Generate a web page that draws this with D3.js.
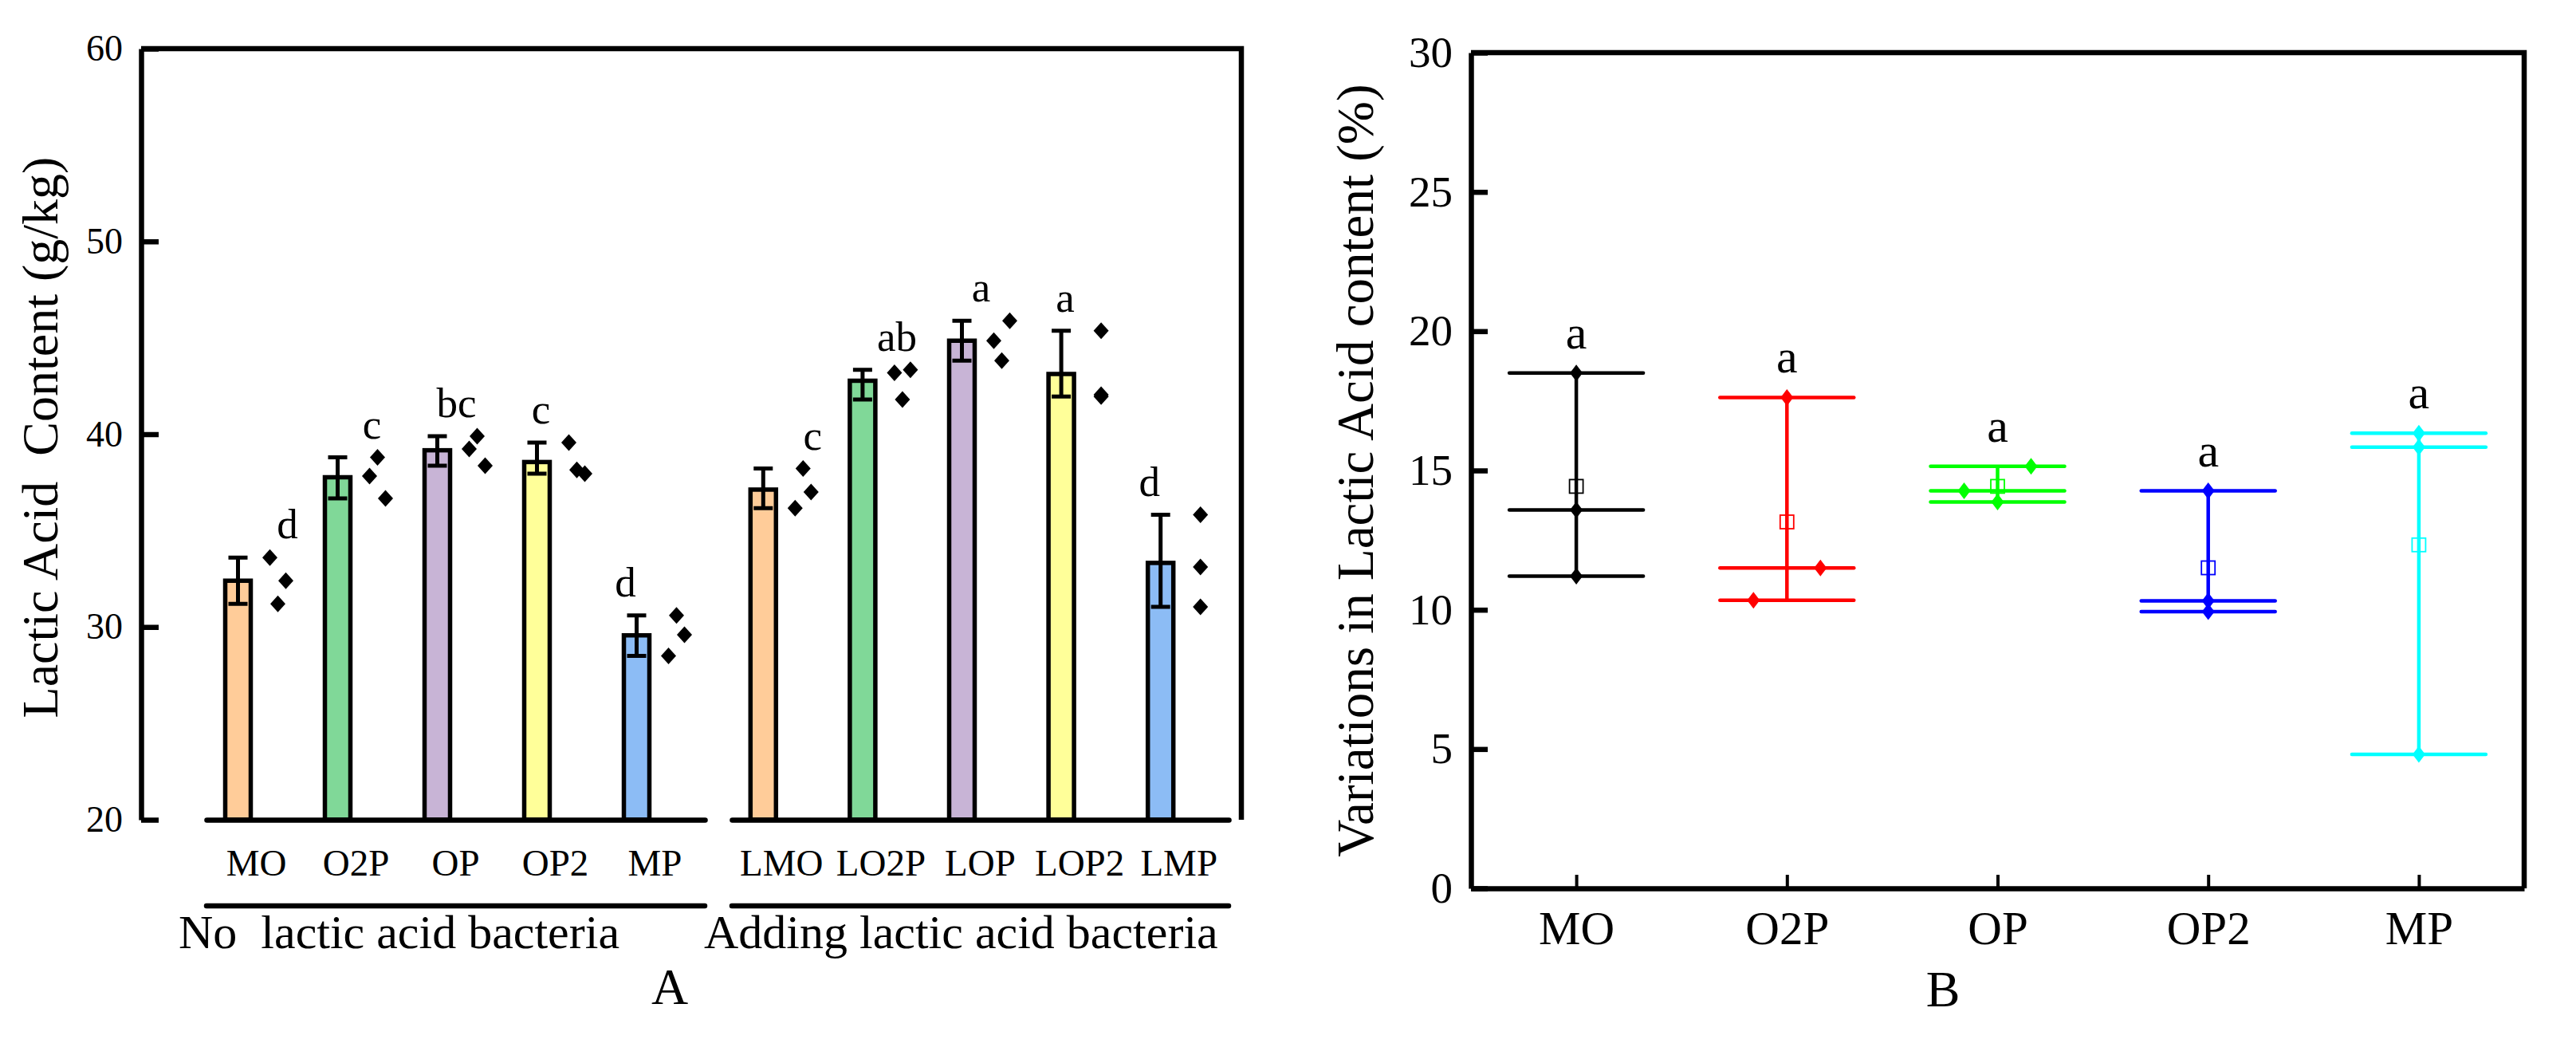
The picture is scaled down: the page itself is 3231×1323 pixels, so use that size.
<!DOCTYPE html>
<html>
  <head>
    <meta charset="utf-8">
    <title>Lactic acid content</title>
    <style>
      body { margin: 0; background: #fff; }
      svg { display: block; }
      text { font-family: "Liberation Serif", "Times New Roman", serif; fill: #000; white-space: pre; }
      .axis path, .axis line { stroke: #000; }
      .bar { stroke: #000; stroke-width: 5.5px; }
      .err { stroke: #000; stroke-width: 5px; fill: none; }
    </style>
  </head>
  <body>
    <div id="chart"></div>
    <script src="https://d3js.org/d3.v7.min.js"></script>
    <script>
      const serif = "Liberation Serif, Times New Roman, serif";

      // Panel A: two groups of five treatments, three replicates each (g/kg)
      const groupNames = ["No  lactic acid bacteria", "Adding lactic acid bacteria"];
      const catsNoLab = ["MO", "O2P", "OP", "OP2", "MP"];
      const catsLab = ["LMO", "LO2P", "LOP", "LOP2", "LMP"];
      const barColors = ["#ffcc99", "#80d898", "#c8b4d6", "#ffff99", "#8cbcf5"];
      const repsNoLab = [
        [33.6, 32.4, 31.2],
        [38.8, 37.83, 36.67],
        [39.9, 39.23, 38.37],
        [39.57, 38.15, 37.95],
        [30.6, 29.6, 28.5]
      ];
      const repsLab = [
        [38.22, 37.0, 36.16],
        [43.18, 43.34, 41.8],
        [45.88, 44.85, 43.82],
        [45.37, 42.05, 41.95],
        [35.82, 33.11, 31.04]
      ];
      // which side of the point column each replicate sits (-1 left, 0 middle, 1 right)
      const slotNoLab = [[-1, 1, 0], [0, -1, 1], [0, -1, 1], [-1, 0, 1], [0, 1, -1]];
      const slotLab = [[0, 1, -1], [-1, 1, 0], [1, -1, 0], [0, 0, 0], [0, 0, 0]];
      const lettersNoLab = ["d", "c", "bc", "c", "d"];
      const lettersLab = ["c", "ab", "a", "a", "d"];
      const ticksA = [20, 30, 40, 50, 60];

      // Panel B: variation in lactic acid content (%)
      const catsB = ["MO", "O2P", "OP", "OP2", "MP"];
      const colorsB = ["#000000", "#ff0000", "#00ff00", "#0000ff", "#00ffff"];
      const repsB = [
        [18.5, 13.58, 11.21],
        [17.62, 11.5, 10.34],
        [15.15, 14.27, 13.87],
        [14.27, 10.32, 9.93],
        [16.34, 15.84, 4.81]
      ];
      const slotB = [[0, 0, 0], [0, 1, -1], [1, -1, 0], [0, 0, 0], [0, 0, 0]];
      const lettersB = ["a", "a", "a", "a", "a"];
      const ticksB = [0, 5, 10, 15, 20, 25, 30];

      const width = 3231, height = 1323;
      const svg = d3.select("#chart").append("svg")
          .attr("width", width)
          .attr("height", height)
          .attr("font-family", serif);

      const diamond = (hw, hh) => `M0,${-hh}L${hw},0L0,${hh}L${-hw},0Z`;

      // ---------- Panel A ----------
      const A = { left: 177, right: 1557, top: 61, bottom: 1028 };
      const yA = d3.scaleLinear().domain([20, 60]).range([A.bottom, A.top]);
      const groupRanges = [[259, 884], [918, 1541]];

      const gA = svg.append("g");

      // frame top and right
      gA.append("path")
          .attr("d", `M${A.left},${A.top}H${A.right}V${A.bottom}`)
          .attr("fill", "none").attr("stroke", "#000").attr("stroke-width", 6.5);

      const yAxisA = gA.append("g")
          .attr("class", "axis")
          .attr("transform", `translate(${A.left},0)`)
          .call(d3.axisLeft(yA).tickValues(ticksA).tickSizeInner(-22).tickSizeOuter(0).tickPadding(23))
          .attr("font-family", serif);
      yAxisA.selectAll("path, line").attr("stroke-width", 6.5);
      yAxisA.selectAll("text").attr("font-size", 46);

      gA.append("text")
          .attr("transform", `translate(72,${(A.top + A.bottom) / 2 + 4}) rotate(-90)`)
          .attr("text-anchor", "middle")
          .attr("font-size", 64)
          .text("Lactic Acid  Content (g/kg)");

      const groups = [
        { cats: catsNoLab, reps: repsNoLab, slots: slotNoLab, letters: lettersNoLab },
        { cats: catsLab, reps: repsLab, slots: slotLab, letters: lettersLab }
      ];

      groups.forEach((grp, gi) => {
        const x = d3.scaleBand().domain(grp.cats).range(groupRanges[gi]);
        const cx = c => x(c) + x.bandwidth() / 2;

        const xAxis = gA.append("g")
            .attr("class", "axis")
            .attr("transform", `translate(0,${A.bottom})`)
            .call(d3.axisBottom(x).tickSize(0).tickPadding(37))
            .attr("font-family", serif);
        xAxis.select("path").attr("stroke-width", 6.5).attr("stroke-linecap", "round");
        xAxis.selectAll("text").attr("font-size", 47);

        const rows = grp.cats.map((c, i) => {
          const v = grp.reps[i];
          return { cat: c, i, reps: v, mean: d3.mean(v), lo: d3.min(v), hi: d3.max(v) };
        });

        // bars (mean of replicates)
        gA.selectAll(null).data(rows).enter().append("rect")
            .attr("class", "bar")
            .attr("x", d => cx(d.cat) - 23 - 16)
            .attr("width", 32)
            .attr("y", d => yA(d.mean))
            .attr("height", d => yA(20) - yA(d.mean))
            .attr("fill", d => barColors[d.i]);

        // error bars from lowest to highest replicate
        gA.selectAll(null).data(rows).enter().append("path")
            .attr("class", "err")
            .attr("d", d => {
              const bx = cx(d.cat) - 23;
              return `M${bx},${yA(d.lo)}V${yA(d.hi)}M${bx - 12},${yA(d.hi)}H${bx + 12}M${bx - 12},${yA(d.lo)}H${bx + 12}`;
            });

        // baseline redrawn on top of the bars
        xAxis.raise();

        // replicate points
        rows.forEach(d => {
          gA.selectAll(null).data(d.reps).enter().append("path")
              .attr("d", diamond(9.5, 10.5))
              .attr("fill", "#000")
              .attr("transform", (v, k) => `translate(${cx(d.cat) + 27 + grp.slots[d.i][k] * 10},${yA(v)})`);
        });

        // significance letters
        gA.selectAll(null).data(rows).enter().append("text")
            .attr("x", d => cx(d.cat) - 23 + 62 - 19 * d.i)
            .attr("y", d => yA(d.hi) - 24)
            .attr("text-anchor", "middle")
            .attr("font-size", 53)
            .text(d => grp.letters[d.i]);

        // group underline and label
        const [r0, r1] = groupRanges[gi];
        gA.append("line")
            .attr("x1", r0).attr("x2", r1)
            .attr("y1", 1136).attr("y2", 1136)
            .attr("stroke", "#000").attr("stroke-width", 6.5).attr("stroke-linecap", "round");
        gA.append("text")
            .attr("x", r0 - 35).attr("y", 1189)
            .attr("font-size", 60)
            .text(groupNames[gi]);
      });

      gA.append("text")
          .attr("x", 840).attr("y", 1259)
          .attr("text-anchor", "middle")
          .attr("font-size", 64)
          .text("A");

      // ---------- Panel B ----------
      const B = { left: 1845, right: 3166, top: 66, bottom: 1114 };
      const yB = d3.scaleLinear().domain([0, 30]).range([B.bottom, B.top]);
      const xB = d3.scalePoint().domain(catsB).range([B.left, B.right]).padding(0.5);

      const gB = svg.append("g");

      gB.append("path")
          .attr("d", `M${B.left},${B.top}H${B.right}V${B.bottom}`)
          .attr("fill", "none").attr("stroke", "#000").attr("stroke-width", 6.5);

      const yAxisB = gB.append("g")
          .attr("class", "axis")
          .attr("transform", `translate(${B.left},0)`)
          .call(d3.axisLeft(yB).tickValues(ticksB).tickSizeInner(-21).tickSizeOuter(0).tickPadding(23))
          .attr("font-family", serif);
      yAxisB.selectAll("path, line").attr("stroke-width", 6.5);
      yAxisB.selectAll("text").attr("font-size", 55);

      const xAxisB = gB.append("g")
          .attr("class", "axis")
          .attr("transform", `translate(0,${B.bottom})`)
          .call(d3.axisBottom(xB).tickSizeInner(-17).tickSizeOuter(0).tickPadding(28))
          .attr("font-family", serif);
      xAxisB.select("path").attr("stroke-width", 6.5);
      xAxisB.selectAll("line").attr("stroke-width", 4);
      xAxisB.selectAll("text").attr("font-size", 59);

      gB.append("text")
          .attr("transform", `translate(1722,${(B.top + B.bottom) / 2}) rotate(-90)`)
          .attr("text-anchor", "middle")
          .attr("font-size", 65)
          .text("Variations in Lactic Acid content (%)");

      const rowsB = catsB.map((c, i) => {
        const v = repsB[i];
        return { cat: c, i, reps: v, mean: d3.mean(v), lo: d3.min(v), hi: d3.max(v) };
      });

      rowsB.forEach(d => {
        const g = gB.append("g").attr("stroke", colorsB[d.i]).attr("fill", colorsB[d.i]);
        const x0 = xB(d.cat);
        // range line
        g.append("line")
            .attr("x1", x0).attr("x2", x0)
            .attr("y1", yB(d.lo)).attr("y2", yB(d.hi))
            .attr("stroke-width", 4.5);
        // one horizontal line per replicate
        g.selectAll(null).data(d.reps).enter().append("line")
            .attr("x1", x0 - 84).attr("x2", x0 + 84)
            .attr("y1", v => yB(v)).attr("y2", v => yB(v))
            .attr("stroke-width", 4.5).attr("stroke-linecap", "round");
        // replicate points
        g.selectAll(null).data(d.reps).enter().append("path")
            .attr("d", diamond(8, 10.5))
            .attr("stroke", "none")
            .attr("transform", (v, k) => `translate(${x0 + slotB[d.i][k] * 42},${yB(v)})`);
        // mean marker
        g.append("rect")
            .attr("x", x0 - 8.5).attr("y", yB(d.mean) - 8.5)
            .attr("width", 17).attr("height", 17)
            .attr("fill", "none").attr("stroke-width", 1.8);
        // letter
        gB.append("text")
            .attr("x", x0).attr("y", yB(d.hi) - 31)
            .attr("text-anchor", "middle")
            .attr("font-size", 60)
            .text(lettersB[d.i]);
      });

      gB.append("text")
          .attr("x", 2437).attr("y", 1262)
          .attr("text-anchor", "middle")
          .attr("font-size", 64)
          .text("B");
    </script>
  </body>
</html>
